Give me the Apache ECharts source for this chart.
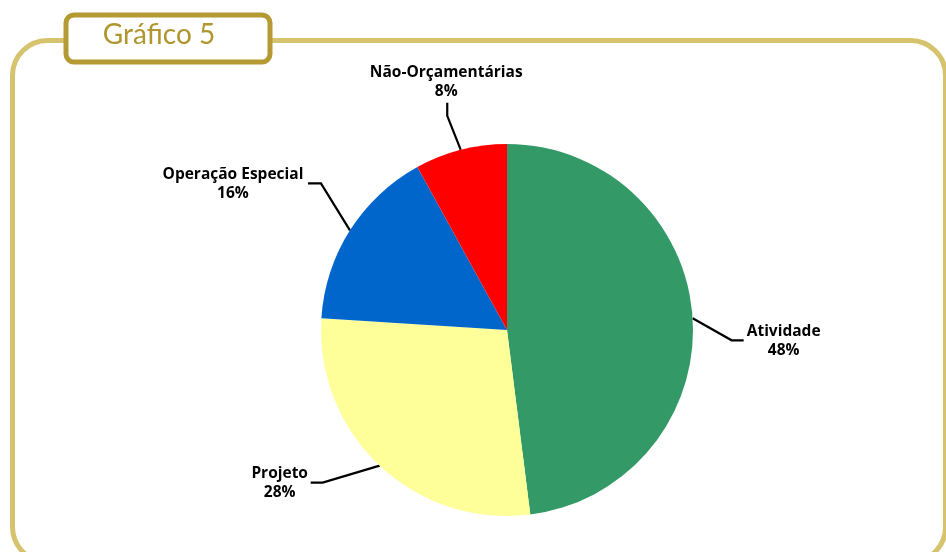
<!DOCTYPE html>
<html>
<head>
<meta charset="utf-8">
<script src="https://cdn.jsdelivr.net/npm/echarts@6/dist/echarts.min.js"></script>
<style>
  html, body { margin: 0; padding: 0; background: #fff; }
  #chart { width: 946px; height: 552px; }
</style>
</head>
<body>
<div id="chart"></div>
<script>
// Share of spending by type of budget action (percent)
const categories = ['Atividade', 'Projeto', 'Operação Especial', 'Não-Orçamentárias'];
const shares = [48, 28, 16, 8];
const sliceColors = ['#339966', '#FFFF99', '#0066CC', '#FF0000'];
const chartTitle = 'Gráfico 5';

// Leader-line bends and label centres, as offsets from where each line leaves the rim
const leaderOffsets = [
  { elbow: [39, 22],  end: [51, 22],  text: [91, 23] },
  { elbow: [-57, 17], end: [-69, 17], text: [-100, 17] },
  { elbow: [-29, -47], end: [-42, -47], text: [-117, -46] },
  { elbow: [-13.5, -34], end: [-13.5, -47], text: [-14.5, -68] }
];

const chart = echarts.init(document.getElementById('chart'), null, { renderer: 'canvas' });

const labelFont = '"Open Sans", "DejaVu Sans", sans-serif';

chart.setOption({
  animation: false,
  backgroundColor: '#ffffff',
  graphic: [
    {
      type: 'rect',
      shape: { x: 12.5, y: 40.5, width: 933, height: 521.5, r: 35 },
      style: { fill: 'none', stroke: '#D5C36E', lineWidth: 5 },
      z: 1
    },
    {
      type: 'rect',
      shape: { x: 66, y: 15, width: 204, height: 47, r: 8 },
      style: { fill: '#ffffff', stroke: '#B39A33', lineWidth: 5 },
      z: 2
    },
    {
      type: 'text',
      x: 159, y: 35,
      style: {
        text: chartTitle,
        fill: '#B0962E',
        font: '28px Lato, "Open Sans", sans-serif',
        align: 'center',
        verticalAlign: 'middle'
      },
      z: 3
    }
  ],
  series: [{
    type: 'pie',
    center: [507, 330],
    radius: 186,
    startAngle: 90,
    clockwise: true,
    silent: true,
    itemStyle: { borderWidth: 0 },
    label: {
      show: true,
      formatter: '{b}\n{d}%',
      color: '#000000',
      fontFamily: labelFont,
      fontWeight: 'bold',
      fontSize: 15.5,
      lineHeight: 19,
      align: 'center'
    },
    labelLine: {
      show: true,
      smooth: false,
      length: 20,
      length2: 10,
      lineStyle: { color: '#000000', width: 2.2 }
    },
    labelLayout: function (params) {
      const o = leaderOffsets[params.dataIndex];
      const p0 = params.labelLinePoints[0];
      return {
        x: p0[0] + o.text[0],
        y: p0[1] + o.text[1],
        align: 'center',
        verticalAlign: 'middle',
        hideOverlap: false,
        labelLinePoints: [
          [p0[0], p0[1]],
          [p0[0] + o.elbow[0], p0[1] + o.elbow[1]],
          [p0[0] + o.end[0], p0[1] + o.end[1]]
        ]
      };
    },
    data: categories.map((name, i) => ({
      name: name,
      value: shares[i],
      itemStyle: { color: sliceColors[i] }
    }))
  }]
});
</script>
</body>
</html>
